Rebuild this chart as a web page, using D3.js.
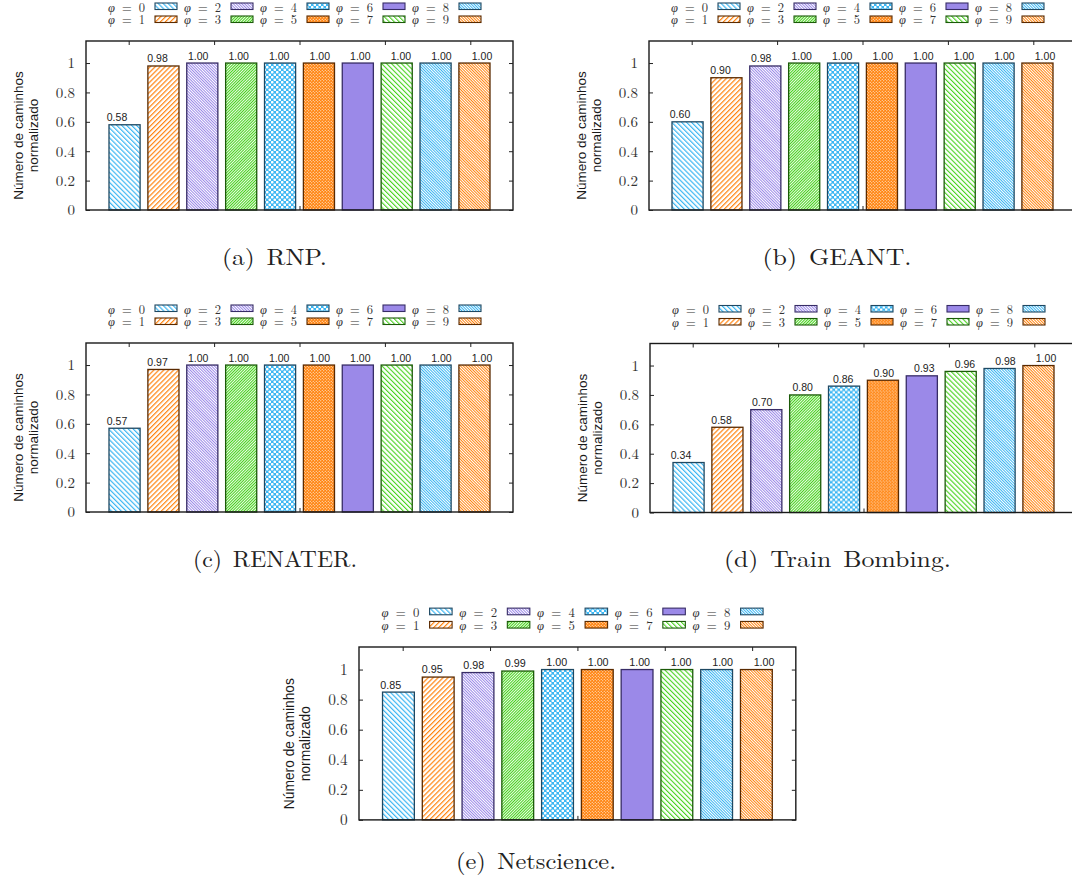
<!DOCTYPE html>
<html>
<head>
<meta charset="utf-8">
<script src="https://cdn.jsdelivr.net/npm/d3@7"></script>
<style>
  body { margin: 0; background: #fff; }
  svg { display: block; }
</style>
</head>
<body>
<svg id="chart" width="1072" height="885"></svg>
<script>
// φ settings, one bar per value in each network panel
const phiValues = [0, 1, 2, 3, 4, 5, 6, 7, 8, 9];

// Normalised number of paths for each topology
const rnpValues        = [0.58, 0.98, 1.00, 1.00, 1.00, 1.00, 1.00, 1.00, 1.00, 1.00];
const geantValues      = [0.60, 0.90, 0.98, 1.00, 1.00, 1.00, 1.00, 1.00, 1.00, 1.00];
const renaterValues    = [0.57, 0.97, 1.00, 1.00, 1.00, 1.00, 1.00, 1.00, 1.00, 1.00];
const trainValues      = [0.34, 0.58, 0.70, 0.80, 0.86, 0.90, 0.93, 0.96, 0.98, 1.00];
const netscienceValues = [0.85, 0.95, 0.98, 0.99, 1.00, 1.00, 1.00, 1.00, 1.00, 1.00];

const yTicks = [0, 0.2, 0.4, 0.6, 0.8, 1];
const yLabelLines = ["Número de caminhos", "normalizado"];
const captions = ["(a) RNP.", "(b) GEANT.", "(c) RENATER.", "(d) Train Bombing.", "(e) Netscience."];

const svg = d3.select("#chart");
const defs = svg.append("defs");

const CYAN = "#3cb6f2", ORANGE = "#ff8410", PURPLE = "#9b89e8", GREEN = "#48d21e";
const BORDER = { cyan: "#1e4862", orange: "#5a2a00", purple: "#372c66", green: "#1b5a08" };

// diagonal hatch; dir = 1 gives "/", dir = -1 gives "\"
function hatch(id, color, period, width, dir) {
  const p = defs.append("pattern")
    .attr("id", id)
    .attr("patternUnits", "userSpaceOnUse")
    .attr("width", period).attr("height", period)
    .attr("patternTransform", `rotate(${dir * 45})`);
  p.append("rect").attr("width", period).attr("height", period).attr("fill", "#fff");
  p.append("rect").attr("width", width).attr("height", period).attr("fill", color);
}
function dots(id, color, period, r) {
  const p = defs.append("pattern")
    .attr("id", id)
    .attr("patternUnits", "userSpaceOnUse")
    .attr("width", period).attr("height", period);
  p.append("rect").attr("width", period).attr("height", period).attr("fill", color);
  [[period / 4, period / 4], [3 * period / 4, 3 * period / 4]].forEach(([cx, cy]) =>
    p.append("circle").attr("cx", cx).attr("cy", cy).attr("r", r).attr("fill", "#fff"));
}

hatch("p0", CYAN, 3.5, 1.2, -1);
hatch("p1", ORANGE, 3.5, 1.2, 1);
hatch("p2", PURPLE, 2.0, 1.0, -1);
hatch("p3", GREEN, 2.0, 1.1, 1);
dots("p4", CYAN, 5, 1.35);
dots("p5", ORANGE, 3, 0.55);
hatch("p7", GREEN, 3.5, 1.1, -1);
hatch("p8", CYAN, 2.0, 1.0, -1);
hatch("p9", ORANGE, 2.0, 1.0, -1);

const fills = ["url(#p0)", "url(#p1)", "url(#p2)", "url(#p3)", "url(#p4)",
               "url(#p5)", PURPLE, "url(#p7)", "url(#p8)", "url(#p9)"];
const strokes = [BORDER.cyan, BORDER.orange, BORDER.purple, BORDER.green, BORDER.cyan,
                 BORDER.orange, BORDER.purple, BORDER.green, BORDER.cyan, BORDER.orange];

const SERIF = "'Latin Modern Roman','CMU Serif','Liberation Serif',serif";
const SANS = "'Liberation Sans',Arial,sans-serif";

const panels = [
  { values: rnpValues,        x: 86,  y: 41,    s: 1 },
  { values: geantValues,      x: 649, y: 41,    s: 1 },
  { values: renaterValues,    x: 86,  y: 343,   s: 1 },
  { values: trainValues,      x: 650, y: 343.5, s: 1 },
  { values: netscienceValues, x: 359, y: 647,   s: 1.023 }
];

function drawPanel(p) {
  const s = p.s, W = 427 * s, H = 169 * s;
  const g = svg.append("g").attr("transform", `translate(${p.x},${p.y})`);

  const y = d3.scaleLinear().domain([0, 1.15]).range([H, 0]);
  const xBar = d3.scaleBand().domain(phiValues).range([23 * s, 404 * s]).paddingInner(0.2);
  const xLab = d3.scalePoint().domain(phiValues).range([31 * s, 396 * s]);
  const xTick = d3.scaleLinear().domain([-0.5, 4.5]).range([0, W]);

  const styleAxis = a => {
    a.select(".domain").remove();
    a.selectAll(".tick line").attr("stroke", "#222").attr("stroke-width", 1);
  };

  // bottom tick marks sit underneath the bars
  g.append("g").attr("transform", `translate(0,${H})`)
    .call(d3.axisBottom(xTick).tickValues([0, 1, 2, 3, 4]).tickSize(-4).tickFormat(""))
    .call(styleAxis);

  // bars
  g.selectAll("rect.bar").data(p.values).join("rect")
    .attr("class", "bar")
    .attr("x", (d, i) => xBar(phiValues[i]))
    .attr("y", d => y(d))
    .attr("width", xBar.bandwidth())
    .attr("height", d => H - y(d))
    .attr("fill", (d, i) => fills[i])
    .attr("stroke", (d, i) => strokes[i])
    .attr("stroke-width", 1.3);

  // value labels
  g.selectAll("text.val").data(p.values).join("text")
    .attr("class", "val")
    .attr("x", (d, i) => xLab(phiValues[i]))
    .attr("y", d => y(d) - 3.5 * s)
    .attr("text-anchor", "middle")
    .attr("font-family", SANS)
    .attr("font-size", 10.5 * s)
    .attr("fill", "#222")
    .text(d => d3.format(".2f")(d));

  // frame
  g.append("rect").attr("width", W).attr("height", H)
    .attr("fill", "none").attr("stroke", "#1a1a1a").attr("stroke-width", 1.4);

  // y axis (left, with labels) and mirrored ticks on the right
  const left = g.append("g")
    .call(d3.axisLeft(y).tickValues(yTicks).tickSize(-4).tickPadding(11 * s).tickFormat(d3.format("")))
    .call(styleAxis);
  left.selectAll(".tick text")
    .attr("font-family", SERIF).attr("font-size", 15 * s).attr("fill", "#333");
  g.append("g").attr("transform", `translate(${W},0)`)
    .call(d3.axisRight(y).tickValues(yTicks).tickSize(-4).tickFormat(""))
    .call(styleAxis);
  g.append("g")
    .call(d3.axisTop(xTick).tickValues([0, 1, 2, 3, 4]).tickSize(-4).tickFormat(""))
    .call(styleAxis);

  // y axis title
  const yl = g.append("g").attr("transform", `translate(${-60.5 * s},${H / 2 + 10 * s}) rotate(-90)`);
  yLabelLines.forEach((line, i) => {
    yl.append("text")
      .attr("x", 0).attr("y", (i === 0 ? -7.5 : 7.5) * s)
      .attr("dominant-baseline", "central")
      .attr("text-anchor", "middle")
      .attr("font-family", SANS)
      .attr("font-size", 13.5 * s)
      .attr("fill", "#1a1a1a")
      .text(line);
  });

  // legend: five columns, two rows
  const lg = g.append("g");
  phiValues.forEach((phi, k) => {
    const col = Math.floor(k / 2), row = k % 2;
    const sx = (69 + 76 * col) * s;
    const sy = (row === 0 ? -38 : -25) * s;
    lg.append("rect")
      .attr("x", sx).attr("y", sy)
      .attr("width", 22 * s).attr("height", 6.5 * s)
      .attr("fill", fills[k]).attr("stroke", strokes[k]).attr("stroke-width", 1.1);
    const t = lg.append("text")
      .attr("x", sx - 47 * s)
      .attr("y", (row === 0 ? -29.5 : -17) * s)
      .attr("font-family", SERIF)
      .attr("font-size", 12.5 * s)
      .attr("fill", "#333")
      .attr("textLength", 37 * s)
      .attr("lengthAdjust", "spacing");
    t.append("tspan").attr("font-style", "italic").text("φ");
    t.append("tspan").text(` = ${phi}`);
  });
}

panels.forEach(drawPanel);

// subfigure captions
const captionPos = [
  { x: 274.5, y: 265, w: 105 },
  { x: 837,   y: 265, w: 149 },
  { x: 275,   y: 567, w: 164 },
  { x: 837.5, y: 567, w: 227 },
  { x: 536,   y: 869, w: 160 }
];
captions.forEach((c, i) => {
  svg.append("text")
    .attr("x", captionPos[i].x).attr("y", captionPos[i].y)
    .attr("text-anchor", "middle")
    .attr("font-family", SERIF)
    .attr("font-size", 23)
    .attr("fill", "#222")
    .attr("word-spacing", 3)
    .attr("textLength", captionPos[i].w)
    .attr("lengthAdjust", "spacingAndGlyphs")
    .text(c);
});
</script>
</body>
</html>
